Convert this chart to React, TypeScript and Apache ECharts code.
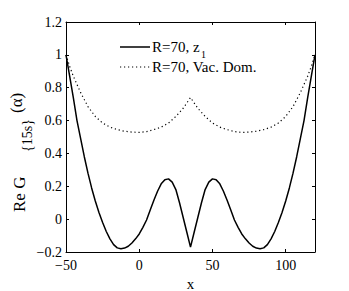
import React, { useEffect, useRef } from "react";
import * as echarts from "echarts";

const xSolid = [
  -50, -47.5, -45, -42.5, -40, -37.5, -35, -32.5, -30, -27.5, -25, -22.5, -20, -17.5, -15, -12.5,
  -10, -7.5, -5, -2.5, 0, 2.5, 5, 7.5, 10, 12.5, 15, 17.5, 20, 22.5, 25, 27.5, 30, 32.5, 35,
  37.5, 40, 42.5, 45, 47.5, 50, 52.5, 55, 57.5, 60, 62.5, 65, 67.5, 70, 72.5, 75, 77.5, 80, 82.5,
  85, 87.5, 90, 92.5, 95, 97.5, 100, 102.5, 105, 107.5, 110, 112.5, 115, 117.5, 120,
];
const ySolid = [
  1.0, 0.87, 0.74, 0.6, 0.49, 0.38, 0.28, 0.19, 0.11, 0.04, -0.02, -0.075, -0.12, -0.155, -0.175, -0.18,
  -0.176, -0.165, -0.145, -0.12, -0.09, -0.05, -0.005, 0.055, 0.115, 0.17, 0.215, 0.24, 0.245, 0.225, 0.18, 0.1, 0.01, -0.08, -0.17,
  -0.08, 0.01, 0.1, 0.18, 0.225, 0.245, 0.24, 0.215, 0.17, 0.115, 0.055, -0.005, -0.05, -0.09, -0.12, -0.145, -0.165, -0.176, -0.18,
  -0.175, -0.155, -0.12, -0.075, -0.02, 0.04, 0.11, 0.19, 0.28, 0.38, 0.49, 0.6, 0.74, 0.87, 1.0,
];
const xDotted = [
  -50, -47.5, -45, -40, -35, -30, -25, -20, -15, -10, -5, 0, 5, 10, 15, 20, 25, 30, 35,
  40, 45, 50, 55, 60, 65, 70, 75, 80, 85, 90, 95, 100, 105, 110, 115, 117.5, 120,
];
const yDotted = [
  1.0, 0.93, 0.87, 0.77, 0.685, 0.625, 0.585, 0.56, 0.545, 0.535, 0.53, 0.528, 0.533, 0.545, 0.56, 0.585, 0.625, 0.675, 0.74,
  0.675, 0.625, 0.585, 0.56, 0.545, 0.533, 0.528, 0.53, 0.535, 0.545, 0.56, 0.585, 0.625, 0.685, 0.77, 0.87, 0.93, 1.0,
];
const legendNames = ["R=70, z", "R=70, Vac. Dom."];
const legendSub = "1";
const yLabelMain = "Re G";
const yLabelSub = "{15s}";
const yLabelTail = "(α)";
const xLabel = "x";

const FONT = "Liberation Serif";

export default function App() {
  const ref = useRef<HTMLDivElement>(null);
  useEffect(() => {
    if (!ref.current) return;
    const chart = echarts.init(ref.current, null, { renderer: "svg" });
    const fmt = (v: number) => String(+v.toFixed(1)).replace("-", "\u2212");
    const axisCommon = {
      type: "value" as const,
      axisLine: { show: true, onZero: false, lineStyle: { color: "#000", width: 1 } },
      axisTick: { show: true, inside: true, length: 3, lineStyle: { color: "#000" } },
      splitLine: { show: false },
    };
    chart.setOption({
      animation: false,
      grid: { left: 66, right: 34, top: 22, bottom: 39, outerBoundsMode: "none", containLabel: false },
      xAxis: [
        {
          ...axisCommon,
          min: -50, max: 120, interval: 50, position: "bottom",
          axisLabel: { formatter: fmt, fontSize: 14, fontFamily: FONT, color: "#000", margin: 6, showMaxLabel: false },
          name: xLabel, nameLocation: "middle", nameGap: 19,
          nameTextStyle: { fontSize: 15, fontFamily: FONT, color: "#000" },
        },
        {
          ...axisCommon,
          min: -50, max: 120, interval: 50, position: "top",
          axisLabel: { show: false },
        },
      ],
      yAxis: [
        {
          ...axisCommon,
          min: -0.2, max: 1.2, interval: 0.2, position: "left",
          axisLabel: { formatter: fmt, fontSize: 14, fontFamily: FONT, color: "#000", margin: 4 },
        },
        {
          ...axisCommon,
          min: -0.2, max: 1.2, interval: 0.2, position: "right",
          axisLabel: { show: false },
        },
      ],
      series: [
        {
          name: legendNames[1],
          type: "line",
          showSymbol: false,
          symbol: "none",
          data: xDotted.map((x, i) => [x, yDotted[i]]),
          lineStyle: { color: "#000", width: 1.2, type: [1.2, 2.8] },
        },
        {
          name: legendNames[0] + legendSub,
          type: "line",
          showSymbol: false,
          symbol: "none",
          data: xSolid.map((x, i) => [x, ySolid[i]]),
          lineStyle: { color: "#000", width: 1.5 },
        },
      ],
      graphic: [
        { type: "line", shape: { x1: 120, y1: 47, x2: 150, y2: 47 }, style: { stroke: "#000", lineWidth: 1.5 } },
        { type: "text", x: 152, y: 47, style: { text: legendNames[0], fontSize: 15, fontFamily: FONT, fill: "#000", verticalAlign: "middle" } },
        { type: "text", x: 201, y: 54, style: { text: legendSub, fontSize: 10, fontFamily: FONT, fill: "#000", verticalAlign: "middle" } },
        { type: "line", shape: { x1: 120, y1: 67, x2: 150, y2: 67 }, style: { stroke: "#000", lineWidth: 1.2, lineDash: [1.2, 2.8] } },
        { type: "text", x: 152, y: 67, style: { text: legendNames[1], fontSize: 15, fontFamily: FONT, fill: "#000", verticalAlign: "middle" } },
        {
          type: "group", x: 19, y: 212, rotation: Math.PI / 2,
          children: [
            { type: "text", x: 0, y: 0, style: { text: yLabelMain, fontSize: 17, fontFamily: FONT, fill: "#000", verticalAlign: "middle" } },
            { type: "text", x: 60, y: 8.5, style: { text: yLabelSub, fontSize: 14, fontFamily: FONT, fill: "#000", verticalAlign: "middle" } },
            { type: "text", x: 99, y: -3, style: { text: yLabelTail, fontSize: 17, fontFamily: FONT, fill: "#000", verticalAlign: "middle" } },
          ],
        },
      ],
    });
    return () => chart.dispose();
  }, []);
  return <div ref={ref} style={{ width: 349, height: 291, position: "absolute", left: 0, top: 0 }} />;
}
